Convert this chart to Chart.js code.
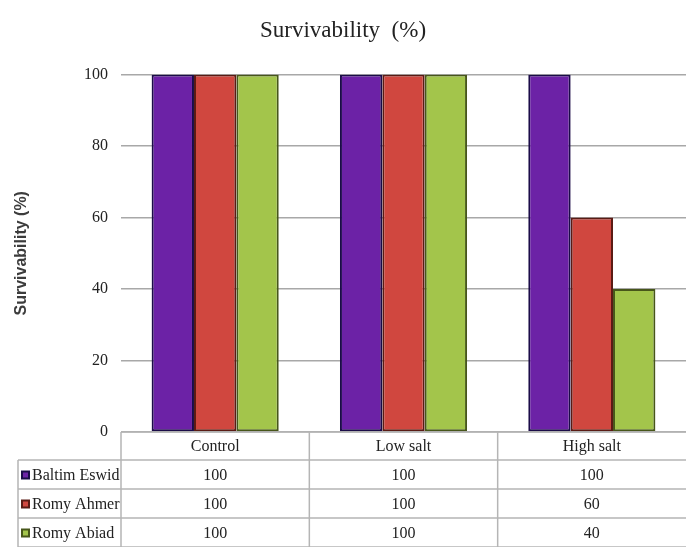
<!DOCTYPE html>
<html>
<head>
<meta charset="utf-8">
<script src="https://cdn.jsdelivr.net/npm/chart.js@4/dist/chart.umd.min.js"></script>
<style>
  html, body { margin: 0; padding: 0; background: #fff; overflow: hidden; }
  #wrap { width: 686px; height: 547px; position: relative; }
</style>
</head>
<body>
<div id="wrap"><canvas id="chart" width="686" height="547"></canvas></div>
<script>
// Treatments along the x axis
const categories = ['Control', 'Low salt', 'High salt'];

// Survivability (%) for each variety
const baltimEswid = [100, 100, 100];
const romyAhmer = [100, 100, 60];
const romyAbiad = [100, 100, 40];

const seriesNames = ['Baltim Eswid', 'Romy Ahmer', 'Romy Abiad'];
const fillColors = ['#6c22a6', '#d0473f', '#a3c54b'];
const edgeColors = ['#1b0c48', '#5a1b14', '#47561a'];

const yTicks = [0, 20, 40, 60, 80, 100];

const serif = '"Liberation Serif", "DejaVu Serif", serif';

// Data table under the plot: header row of treatments, one row per variety
const dataTablePlugin = {
  id: 'dataTable',
  afterDraw(chart) {
    const ctx = chart.ctx;
    const area = chart.chartArea;
    const xs = chart.scales.x;
    const n = categories.length;
    const colW = (area.right - area.left) / n;
    const top = area.bottom;
    const headH = 28;
    const rowH = 29;
    const leftCol = 18;
    const right = chart.width;
    const rowsTop = top + headH;
    const bottom = rowsTop + rowH * seriesNames.length;

    ctx.save();
    ctx.strokeStyle = '#b5b5b5';
    ctx.lineWidth = 1.5;

    // horizontal rules
    ctx.beginPath();
    ctx.moveTo(area.left, top); ctx.lineTo(right, top);
    for (let r = 0; r <= seriesNames.length; r++) {
      const y = rowsTop + r * rowH;
      ctx.moveTo(leftCol, y); ctx.lineTo(right, y);
    }
    // vertical rules
    ctx.moveTo(leftCol, rowsTop); ctx.lineTo(leftCol, bottom);
    for (let c = 0; c < n; c++) {
      const x = area.left + c * colW;
      ctx.moveTo(x, top); ctx.lineTo(x, bottom);
    }
    ctx.stroke();

    ctx.fillStyle = '#222';
    ctx.font = '16px ' + serif;
    ctx.textBaseline = 'middle';
    ctx.textAlign = 'center';

    // header labels
    categories.forEach((label, i) => {
      ctx.fillText(label, xs.getPixelForValue(i), top + headH / 2 + 1);
    });

    // variety rows
    chart.data.datasets.forEach((ds, r) => {
      const yMid = rowsTop + r * rowH + rowH / 2 + 1;
      // legend key
      ctx.fillStyle = ds.borderColor;
      ctx.fillRect(21, yMid - 5, 9, 9);
      ctx.fillStyle = ds.backgroundColor;
      ctx.fillRect(23, yMid - 3, 5, 5);
      ctx.fillStyle = '#222';
      ctx.textAlign = 'left';
      ctx.fillText(ds.label, 32, yMid);
      ctx.textAlign = 'center';
      ds.data.forEach((v, i) => {
        ctx.fillText(String(v), xs.getPixelForValue(i), yMid);
      });
    });
    ctx.restore();
  }
};

const seriesData = [baltimEswid, romyAhmer, romyAbiad];

new Chart(document.getElementById('chart'), {
  type: 'bar',
  data: {
    labels: categories,
    datasets: seriesData.map((d, i) => ({
      label: seriesNames[i],
      data: d,
      backgroundColor: fillColors[i],
      borderColor: edgeColors[i],
      borderWidth: 2,
      borderSkipped: false,
      categoryPercentage: 0.675,
      barPercentage: 1.0
    }))
  },
  options: {
    responsive: false,
    animation: false,
    layout: { padding: { left: 0, right: 0, top: 0, bottom: 115 } },
    plugins: {
      legend: { display: false },
      tooltip: { enabled: false },
      title: {
        display: true,
        text: 'Survivability  (%)',
        color: '#222',
        font: { family: serif, size: 23, weight: 'normal' },
        padding: { top: 17, bottom: 30 }
      }
    },
    scales: {
      x: {
        display: false,
        offset: true
      },
      y: {
        min: 0,
        max: 100,
        afterBuildTicks(scale) {
          scale.ticks = yTicks.map(v => ({ value: v }));
        },
        afterFit(scale) { scale.width = 121; },
        border: { display: false },
        grid: {
          color: '#a8a8a8',
          lineWidth: 1.5,
          drawTicks: false
        },
        ticks: {
          padding: 13,
          color: '#222',
          font: { family: serif, size: 16 }
        },
        title: {
          display: true,
          text: 'Survivability (%)',
          color: '#3c3c3c',
          font: { family: '"Liberation Sans", Arial, sans-serif', size: 16, weight: 'bold' },
          padding: { top: 12, bottom: 0 }
        }
      }
    }
  },
  plugins: [dataTablePlugin]
});
</script>
</body>
</html>
